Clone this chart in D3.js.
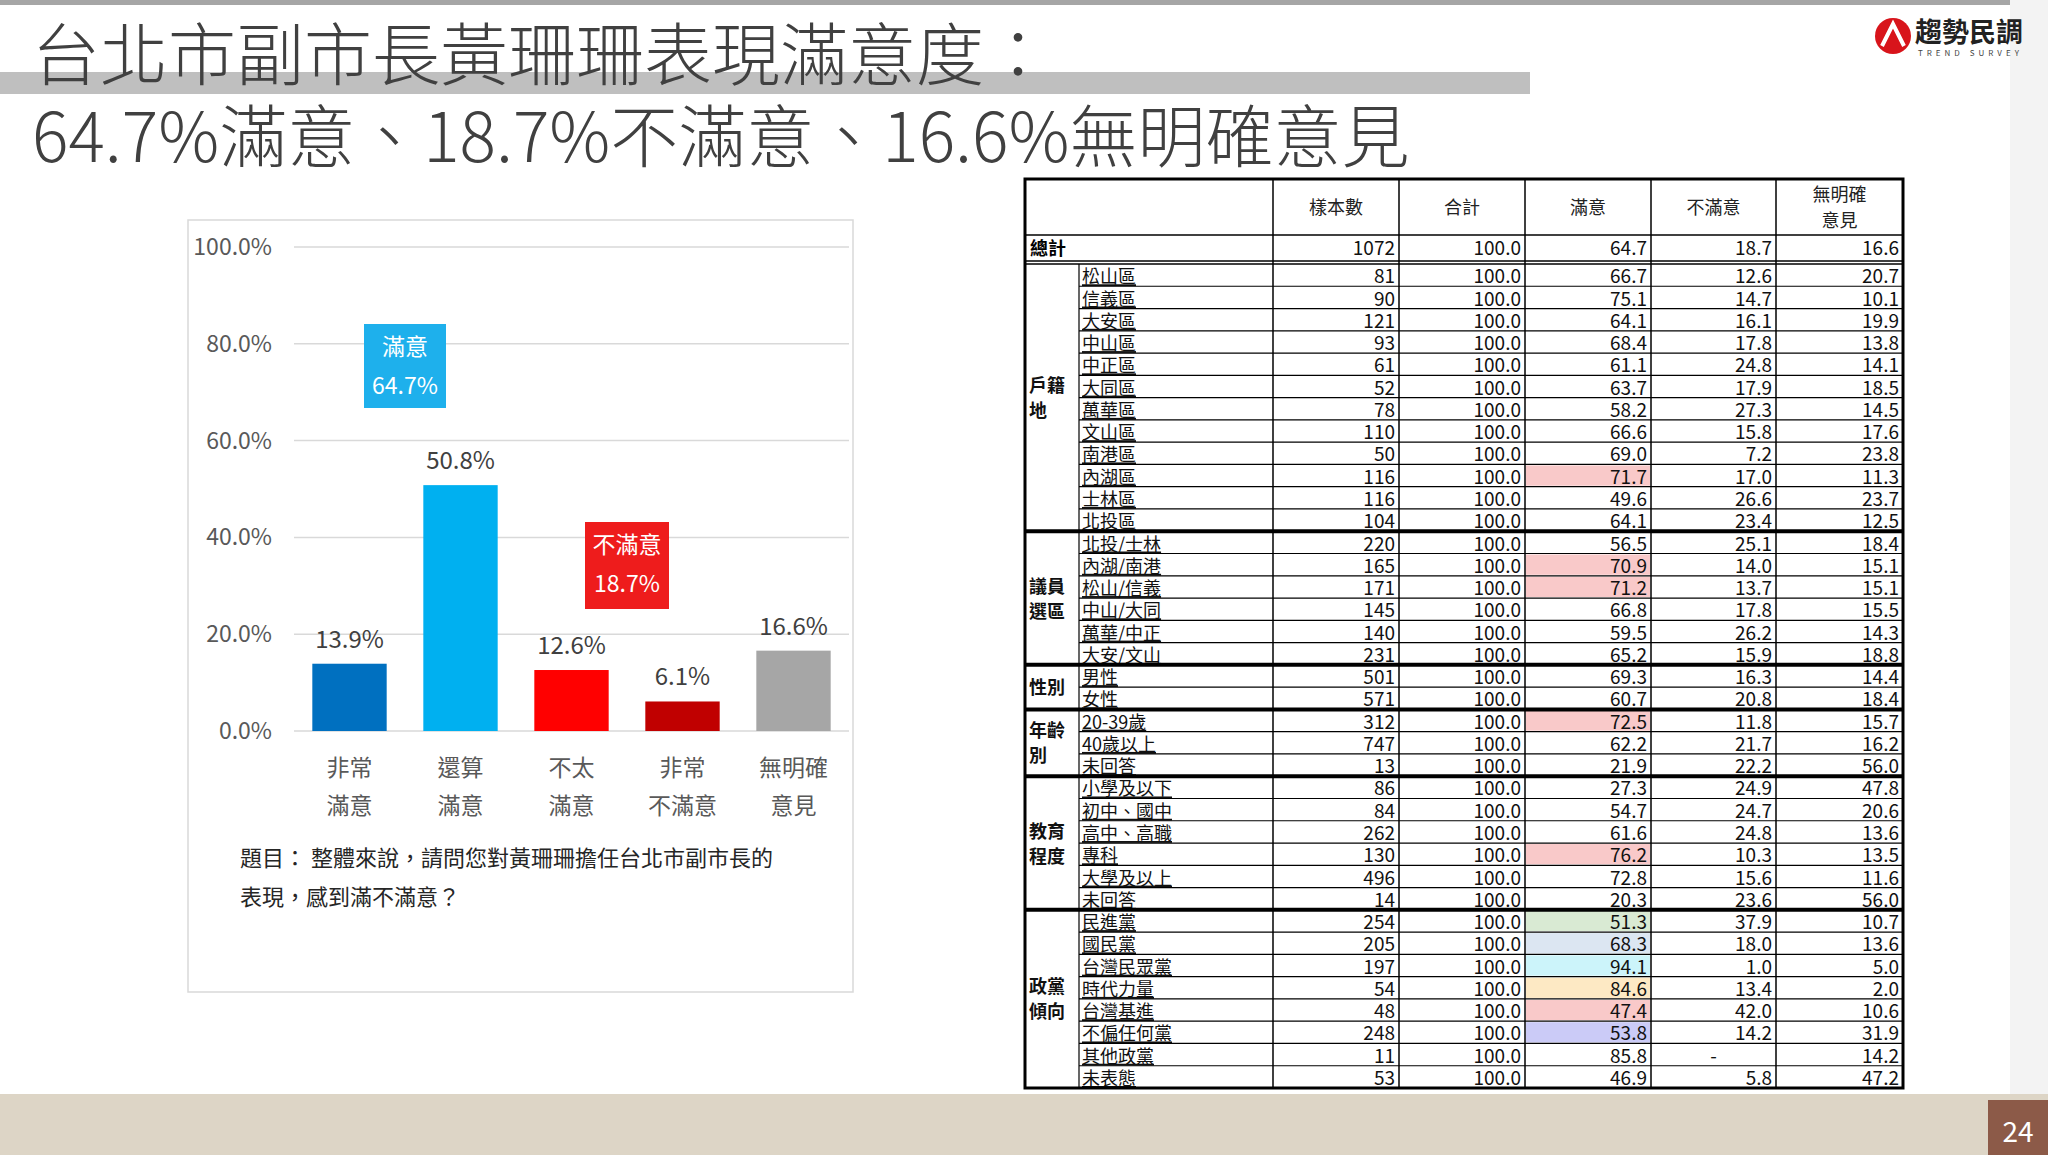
<!DOCTYPE html>
<html><head><meta charset="utf-8">
<script src="https://cdn.jsdelivr.net/npm/d3@7"></script>
<style>
body{margin:0;background:#fff;overflow:hidden}
text{font-family:"Noto Sans CJK TC","Noto Sans",sans-serif}
</style></head><body>
<svg id="c" width="2048" height="1155"></svg>
<script>
// bar chart data
const cats = [['非常','滿意'],['還算','滿意'],['不太','滿意'],['非常','不滿意'],['無明確','意見']]
const vals = [13.9, 50.8, 12.6, 6.1, 16.6]
const barColors = ['#0070c0','#00b0f0','#ff0000','#c00000','#a6a6a6']
const yTicks = [0,20,40,60,80,100]

// table data
const groups = ['戶籍\n地','議員\n選區','性別','年齡\n別','教育\n程度','政黨\n傾向']
const groupSizes = [12,6,2,3,6,8]
const rowLabels = ['松山區','信義區','大安區','中山區','中正區','大同區','萬華區','文山區','南港區','內湖區','士林區','北投區',
  '北投/士林','內湖/南港','松山/信義','中山/大同','萬華/中正','大安/文山',
  '男性','女性','20-39歲','40歲以上','未回答',
  '小學及以下','初中、國中','高中、高職','專科','大學及以上','未回答',
  '民進黨','國民黨','台灣民眾黨','時代力量','台灣基進','不偏任何黨','其他政黨','未表態']
const nVals = [81,90,121,93,61,52,78,110,50,116,116,104,220,165,171,145,140,231,501,571,312,747,13,86,84,262,130,496,14,254,205,197,54,48,248,11,53]
const satVals = ['66.7','75.1','64.1','68.4','61.1','63.7','58.2','66.6','69.0','71.7','49.6','64.1','56.5','70.9','71.2','66.8','59.5','65.2','69.3','60.7','72.5','62.2','21.9','27.3','54.7','61.6','76.2','72.8','20.3','51.3','68.3','94.1','84.6','47.4','53.8','85.8','46.9']
const unsatVals = ['12.6','14.7','16.1','17.8','24.8','17.9','27.3','15.8','7.2','17.0','26.6','23.4','25.1','14.0','13.7','17.8','26.2','15.9','16.3','20.8','11.8','21.7','22.2','24.9','24.7','24.8','10.3','15.6','23.6','37.9','18.0','1.0','13.4','42.0','14.2','-','5.8']
const noopVals = ['20.7','10.1','19.9','13.8','14.1','18.5','14.5','17.6','23.8','11.3','23.7','12.5','18.4','15.1','15.1','15.5','14.3','18.8','14.4','18.4','15.7','16.2','56.0','47.8','20.6','13.6','13.5','11.6','56.0','10.7','13.6','5.0','2.0','10.6','31.9','14.2','47.2']
const highlight = {9:'#f9c9c9',13:'#f9c9c9',14:'#f9c9c9',20:'#f9c9c9',26:'#f9c9c9',29:'#d9ead3',30:'#dce6f2',31:'#ccf4fa',32:'#fde9c4',33:'#f9c9c9',34:'#cbcbf7'}
const headers = ['樣本數','合計','滿意','不滿意','無明確\n意見']

const svg = d3.select('#c')

// page decoration
svg.append('rect').attr('x',0).attr('y',0).attr('width',2048).attr('height',5).attr('fill','#a6a6a6')
svg.append('rect').attr('x',0).attr('y',72).attr('width',1530).attr('height',22).attr('fill','#bfbfbf')
svg.append('rect').attr('x',2010).attr('y',0).attr('width',38).attr('height',1095).attr('fill','#f3f3f3')
svg.append('rect').attr('x',0).attr('y',1094).attr('width',2048).attr('height',61).attr('fill','#ddd5c6')
svg.append('rect').attr('x',1988).attr('y',1100).attr('width',60).attr('height',55).attr('fill','#8c5a48')
svg.append('text').attr('x',2018).attr('y',1142).attr('text-anchor','middle').attr('fill','#fff').attr('font-size',28).text('24')

svg.append('text').attr('x',32).attr('y',80).attr('font-size',68).attr('font-weight',300).attr('fill','#404040').text('台北市副市長黃珊珊表現滿意度：')
svg.append('text').attr('x',32).attr('y',162).attr('font-size',68).attr('font-weight',300).attr('fill','#404040').text('64.7%滿意、18.7%不滿意、16.6%無明確意見')

// logo
svg.append('circle').attr('cx',1893).attr('cy',36).attr('r',18).attr('fill','#d8141b')
svg.append('path').attr('d','M1882,46 L1893,24 L1904,46').attr('stroke','#fff').attr('stroke-width',4).attr('fill','none')
svg.append('text').attr('x',1915).attr('y',42).attr('font-size',27).attr('font-weight','bold').attr('fill','#222').text('趨勢民調')
svg.append('text').attr('x',1918).attr('y',56).attr('font-size',8).attr('letter-spacing',4).attr('fill','#444').text('TREND SURVEY')

// chart panel
svg.append('rect').attr('x',188).attr('y',220).attr('width',665).attr('height',772).attr('fill','#fff').attr('stroke','#d9d9d9').attr('stroke-width',1.5)
const x = d3.scaleBand().domain(d3.range(cats.length)).range([294,849]).paddingInner(0.33).paddingOuter(0.165)
const y = d3.scaleLinear().domain([0,100]).range([731,247])
const g = svg.append('g')
g.selectAll('.grid').data(yTicks).join('line').attr('x1',294).attr('x2',849)
  .attr('y1',d=>y(d)).attr('y2',d=>y(d)).attr('stroke','#d9d9d9').attr('stroke-width',1.5)
g.selectAll('.yl').data(yTicks).join('text').attr('x',272).attr('y',d=>y(d)+8).attr('text-anchor','end')
  .attr('font-size',23).attr('fill','#595959').text(d=>d.toFixed(1)+'%')
g.selectAll('.bar').data(vals).join('rect').attr('x',(d,i)=>x(i)).attr('width',x.bandwidth())
  .attr('y',d=>y(d)).attr('height',d=>y(0)-y(d)).attr('fill',(d,i)=>barColors[i])
g.selectAll('.vl').data(vals).join('text').attr('x',(d,i)=>x(i)+x.bandwidth()/2).attr('y',d=>y(d)-16)
  .attr('text-anchor','middle').attr('font-size',24).attr('fill','#404040').text(d=>d.toFixed(1)+'%')
cats.forEach((c,i)=>{
  c.forEach((t,j)=>g.append('text').attr('x',x(i)+x.bandwidth()/2).attr('y',776+j*38)
    .attr('text-anchor','middle').attr('font-size',23).attr('fill','#595959').text(t))
})
function callout(cx, cy, w, h, fill, lines){
  svg.append('rect').attr('x',cx).attr('y',cy).attr('width',w).attr('height',h).attr('fill',fill)
  lines.forEach((t,j)=>svg.append('text').attr('x',cx+w/2).attr('y',cy+31+j*39).attr('text-anchor','middle')
    .attr('font-size',23).attr('fill','#fff').text(t))
}
callout(364,324,82,84,'#1eb0ec',['滿意','64.7%'])
callout(585,522,84,87,'#ee1c1c',['不滿意','18.7%'])
svg.append('text').attr('x',240).attr('y',866).attr('font-size',22).attr('fill','#262626').text('題目： 整體來說，請問您對黃珊珊擔任台北市副市長的')
svg.append('text').attr('x',240).attr('y',905).attr('font-size',22).attr('fill','#262626').text('表現，感到滿不滿意？')

// table
const colX = [1025,1273,1399,1525,1651,1776,1903]
const gx = 1079
const t = svg.append('g')
const hTop = 179, hBot = 235, totBot = 261, rTop = 264, rBot = 1088
const rowH = (rBot-rTop)/rowLabels.length
const ry = i => rTop + i*rowH
const fs = 18
// highlights
Object.keys(highlight).forEach(k=>{
  t.append('rect').attr('x',colX[3]+1).attr('y',ry(+k)+1).attr('width',colX[4]-colX[3]-2).attr('height',rowH-2).attr('fill',highlight[k])
})
// header
headers.forEach((h,i)=>{
  const ls = h.split('\n')
  ls.forEach((l,j)=>t.append('text').attr('x',(colX[i+1]+colX[i+2])/2).attr('y',(hTop+hBot)/2+7+(j-(ls.length-1)/2)*26)
    .attr('text-anchor','middle').attr('font-size',fs).attr('fill','#222').text(l))
})
t.append('text').attr('x',colX[0]+5).attr('y',totBot-6).attr('font-size',fs).attr('font-weight','bold').text('總計')
;['1072','100.0','64.7','18.7','16.6'].forEach((v,i)=>t.append('text').attr('x',colX[i+2]-4).attr('y',totBot-6)
  .attr('text-anchor','end').attr('font-size',fs+1).attr('fill','#111').text(v))
// rows
rowLabels.forEach((lab,i)=>{
  const yy = ry(i)+rowH-3
  t.append('text').attr('x',gx+3).attr('y',yy).attr('font-size',fs).attr('text-decoration','underline').attr('fill','#111').text(lab)
  ;[nVals[i],'100.0',satVals[i],unsatVals[i],noopVals[i]].forEach((v,j)=>{
    t.append('text').attr('x',v==='-'?(colX[j+2]+colX[j+1])/2:colX[j+2]-4).attr('y',yy).attr('text-anchor',v==='-'?'middle':'end')
      .attr('font-size',fs+1).attr('fill','#111').text(v)
  })
  t.append('line').attr('x1',gx).attr('x2',colX[6]).attr('y1',ry(i+1)).attr('y2',ry(i+1)).attr('stroke','#000').attr('stroke-width',1.2)
})
// groups
let start = 0
const bounds = []
groups.forEach((gname,k)=>{
  const end = start + groupSizes[k]
  const ls = gname.split('\n')
  const mid = (ry(start)+ry(end))/2
  ls.forEach((l,j)=>t.append('text').attr('x',colX[0]+4).attr('y',mid+7+(j-(ls.length-1)/2)*25)
    .attr('font-size',fs).attr('font-weight','bold').attr('fill','#111').text(l))
  bounds.push(ry(end))
  start = end
})
bounds.slice(0,-1).forEach(b=>t.append('line').attr('x1',colX[0]).attr('x2',colX[6]).attr('y1',b).attr('y2',b).attr('stroke','#000').attr('stroke-width',4))
// verticals and frame
colX.slice(1,-1).forEach(cx=>t.append('line').attr('x1',cx).attr('x2',cx).attr('y1',hTop).attr('y2',rBot).attr('stroke','#000').attr('stroke-width',1.5))
t.append('line').attr('x1',gx).attr('x2',gx).attr('y1',rTop).attr('y2',rBot).attr('stroke','#000').attr('stroke-width',1.2)
t.append('line').attr('x1',colX[0]).attr('x2',colX[6]).attr('y1',hBot).attr('y2',hBot).attr('stroke','#000').attr('stroke-width',1.5)
t.append('line').attr('x1',colX[0]).attr('x2',colX[6]).attr('y1',totBot).attr('y2',totBot).attr('stroke','#000').attr('stroke-width',1.5)
t.append('line').attr('x1',colX[0]).attr('x2',colX[6]).attr('y1',rTop).attr('y2',rTop).attr('stroke','#000').attr('stroke-width',1.5)
t.append('rect').attr('x',colX[0]).attr('y',hTop).attr('width',colX[6]-colX[0]).attr('height',rBot-hTop).attr('fill','none').attr('stroke','#000').attr('stroke-width',3)
</script></body></html>
